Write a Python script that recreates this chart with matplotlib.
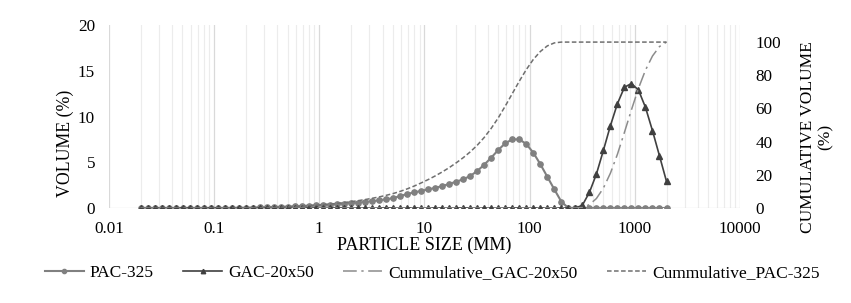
import matplotlib
matplotlib.use("Agg")
import matplotlib.pyplot as plt
from matplotlib.ticker import LogLocator, FixedLocator, NullFormatter

# particle size classes (um, log spaced)
sizes = [0.02, 0.02332, 0.02719, 0.03170, 0.03696, 0.04309, 0.05024, 0.05858,
         0.06830, 0.07963, 0.09283, 0.1082, 0.1262, 0.1471, 0.1715, 0.2,
         0.2332, 0.2719, 0.3170, 0.3696, 0.4309, 0.5024, 0.5858, 0.6830,
         0.7963, 0.9283, 1.082, 1.262, 1.471, 1.715, 2.0, 2.332, 2.719,
         3.170, 3.696, 4.309, 5.024, 5.858, 6.830, 7.963, 9.283, 10.82,
         12.62, 14.71, 17.15, 20.0, 23.32, 27.19, 31.70, 36.96, 43.09,
         50.24, 58.58, 68.30, 79.63, 92.83, 108.2, 126.2, 147.1, 171.5,
         200.0, 233.2, 271.9, 317.0, 369.6, 430.9, 502.4, 585.8, 683.0,
         796.3, 928.3, 1082, 1262, 1471, 1715, 2000]

pac_325 = [0] * 13 + [
    0.01, 0.02, 0.03, 0.05, 0.07, 0.09, 0.11, 0.13, 0.16, 0.19, 0.22, 0.26,
    0.30, 0.34, 0.38, 0.43, 0.48, 0.54, 0.60, 0.67, 0.75, 0.84, 0.95, 1.08,
    1.30,
    1.53, 1.71, 1.86, 2.04, 2.19, 2.40, 2.62, 2.88, 3.13, 3.50, 4.04, 4.73,
    5.50, 6.34, 7.07, 7.50, 7.50, 7.00, 6.05, 4.80, 3.42, 2.04, 0.70,
] + [0] * 15

gac_20x50 = [0] * 63 + [0.3, 1.7, 3.7, 6.3, 9.0, 11.4, 13.2, 13.6, 12.9,
                        11.0, 8.45, 5.7, 2.9]

cum_gac = [0] * 63 + [0.3, 2.0, 5.7, 12.0, 21.0, 32.4, 45.6, 59.2, 72.1,
                      83.1, 91.6, 97.3, 100]

cum_pac = [0] * 13 + [
    0.01, 0.03, 0.06, 0.11, 0.18, 0.27, 0.38, 0.51, 0.67, 0.86, 1.08, 1.34,
    1.64, 1.98, 2.36, 2.79, 3.27, 3.81, 4.41, 5.08, 5.83, 6.67, 7.62, 8.7,
    10.0, 11.5, 13.2, 15.1, 17.1, 19.3, 21.7, 24.3, 27.2, 30.3, 33.8, 37.8,
    42.5, 48.0, 54.3, 61.4, 68.9, 76.4, 83.4, 89.5, 94.3, 97.7, 99.5, 100,
] + [100] * 15

x_ticks = [0.01, 0.1, 1, 10, 100, 1000, 10000]
x_tick_labels = ["0.01", "0.1", "1", "10", "100", "1000", "10000"]

plt.rcParams["font.family"] = ["Liberation Serif", "DejaVu Serif"]
plt.rcParams["font.size"] = 12.5

fig = plt.figure(figsize=(8.51, 3.03), dpi=100)
ax = fig.add_axes([0.128, 0.3135, 0.7416, 0.604])
ax2 = ax.twinx()

l1, = ax.plot(sizes, pac_325, color="#808080", lw=1.5, marker="o",
              markersize=3.8, zorder=3)
l2, = ax.plot(sizes, gac_20x50, color="#404040", lw=1.2, marker="^",
              markersize=4.0, zorder=4)
l3, = ax2.plot(sizes, cum_gac, color="#8c8c8c", lw=1.1, ls=(0, (9, 3, 1.5, 3)))
l4, = ax2.plot(sizes, cum_pac, color="#6f6f6f", lw=1.1, ls=(0, (3, 1.6)))

ax.set_xscale("log")
ax.set_xlim(0.01, 10000)
ax.set_ylim(0, 20)
ax.set_yticks([0, 5, 10, 15, 20])
ax2.set_ylim(0, 110.3)
ax2.set_yticks([0, 20, 40, 60, 80, 100])

ax.xaxis.set_major_locator(FixedLocator(x_ticks))
ax.set_xticklabels(x_tick_labels)
ax.xaxis.set_minor_locator(LogLocator(base=10, subs=range(2, 10), numticks=20))
ax.xaxis.set_minor_formatter(NullFormatter())
ax.grid(True, which="major", axis="x", color="#d9d9d9", lw=0.9)
ax.grid(True, which="minor", axis="x", color="#ececec", lw=0.8)
ax.set_axisbelow(True)

for a in (ax, ax2):
    a.tick_params(which="both", length=0, labelsize=12.3, colors="black")
    for s in ("top", "right", "left", "bottom"):
        a.spines[s].set_visible(False)
ax.axhline(0, color="#d9d9d9", lw=0.9, zorder=1)
ax.tick_params(axis="y", pad=10)
ax.tick_params(axis="x", pad=9)
ax2.tick_params(axis="y", pad=11)

ax.set_xlabel("PARTICLE SIZE (MM)", labelpad=0, fontsize=13)
fig.text(0.0764, 0.528, "VOLUME (%)", rotation=90, ha="center", va="center",
         fontsize=12.8)
fig.text(0.960, 0.548, "CUMULATIVE VOLUME\n(%)", rotation=90, ha="center",
         va="center", multialignment="center", linespacing=1.15, fontsize=12.5)

fig.legend([l1, l2, l3, l4],
           ["PAC-325", "GAC-20x50", "Cummulative_GAC-20x50",
            "Cummulative_PAC-325"],
           loc="center", bbox_to_anchor=(0.5076, 0.098), ncol=4, frameon=False,
           handlelength=2.25, handletextpad=0.34, columnspacing=1.7,
           fontsize=12.5, markerscale=0.8)

fig.savefig("out.png", dpi=100)
